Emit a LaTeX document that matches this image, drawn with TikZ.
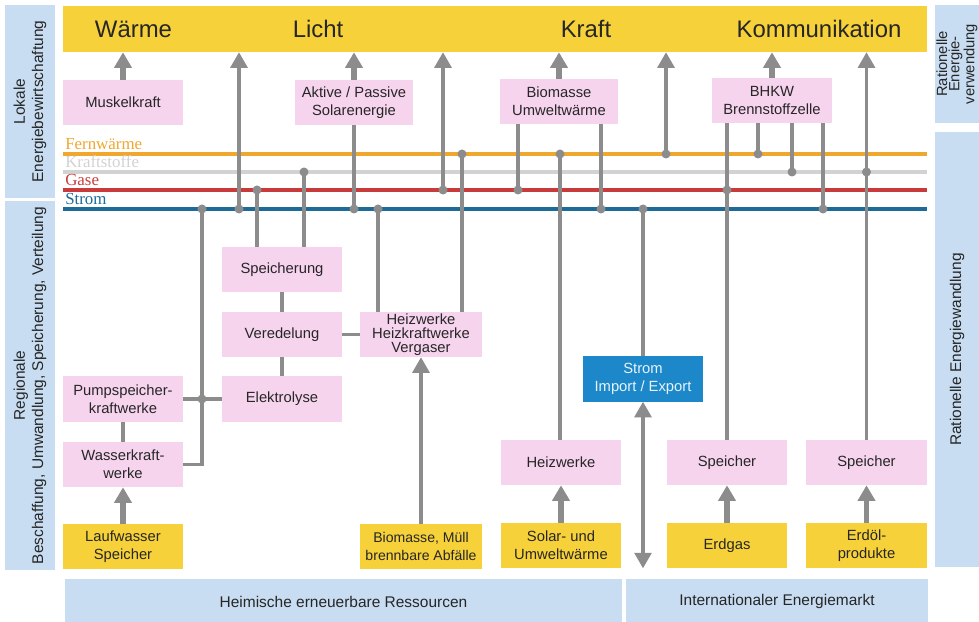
\documentclass[tikz,border=0pt]{standalone}
\usepackage{fontspec}
\setmainfont{Liberation Sans}
\newfontfamily\linefont{Liberation Serif}
\usetikzlibrary{arrows.meta}

\definecolor{barYellow}{HTML}{F6D13A}
\definecolor{boxPink}{HTML}{F6D4EE}
\definecolor{panelBlue}{HTML}{C8DDF2}
\definecolor{connGrey}{HTML}{8C8C8C}
\definecolor{fwOrange}{HTML}{EFA72E}
\definecolor{ksGrey}{HTML}{D2D2D2}
\definecolor{gaRed}{HTML}{C93B3B}
\definecolor{stBlue}{HTML}{1F6B98}
\definecolor{impBlue}{HTML}{1C88CA}

\tikzset{
  pinkbox/.style={fill=boxPink, minimum width=3cm, minimum height=1.125cm, inner sep=1pt,
    align=center, text=black!85, font=\fontsize{10.5}{12.8}\selectfont},
  yellowbox/.style={pinkbox, fill=barYellow},
  panel/.style={fill=panelBlue, inner sep=0pt, align=center, text=black!85,
    font=\fontsize{11}{13}\selectfont},
  conn/.style={draw=connGrey, line width=2.2pt},
  flow/.style={conn, -{Triangle[width=12pt,length=11pt]}},
  fatflow/.style={flow, line width=4pt},
  dflow/.style={conn, {Triangle[width=12pt,length=11pt]}-{Triangle[width=12pt,length=11pt]}},
  barlabel/.style={anchor=base, inner sep=0pt, text=black!85, font=\fontsize{17}{17}\selectfont}
}

\begin{document}
\begin{tikzpicture}[x=0.025cm, y=-0.025cm]
\useasboundingbox (0,0) rectangle (979,622);

% Rahmen
\node[panel, rotate=90, minimum width=4.825cm, minimum height=1.25cm] (lok) at (30,101.5) {Lokale\\Energiebewirtschaftung};
\node[panel, rotate=90, minimum width=9.225cm, minimum height=1.25cm] (reg) at (30,385.5) {Regionale\\Beschaffung, Umwandlung, Speicherung, Verteilung};
\node[panel, rotate=90, minimum width=2.95cm, minimum height=1.1cm, font=\fontsize{10.5}{8.6}\selectfont] (rv) at (957,64) {Rationelle\\Energie-\\verwendung};
\node[panel, rotate=90, minimum width=10.875cm, minimum height=1.1cm] (rw) at (957,349.5) {Rationelle Energiewandlung};
\node[panel, minimum width=13.925cm, minimum height=1.1cm] (heim) at (343.5,601.5) {Heimische erneuerbare Ressourcen};
\node[panel, minimum width=7.55cm, minimum height=1.1cm] (intl) at (777,601.5) {Internationaler Energiemarkt};

\node[fill=barYellow, minimum width=21.6cm, minimum height=1.15cm, inner sep=0pt] (bar) at (495,29) {};
\node[barlabel] (lWaerme) at (133.5,38) {Wärme};
\node[barlabel] (lLicht) at (318,38) {Licht};
\node[barlabel] (lKraft) at (586,38) {Kraft};
\node[barlabel] (lKomm) at (819,38) {Kommunikation};

% Netze
\foreach \nm/\yy/\col/\lbl in {fw/154/fwOrange/Fernwärme,ks/172/ksGrey/Kraftstoffe,ga/190/gaRed/Gase,st/209/stBlue/Strom}{
	\coordinate (\nm L) at (63,\yy);
	\coordinate (\nm R) at (927,\yy);
	\draw[\col, line width=3.5pt] (\nm L) -- (\nm R);
	\node[anchor=base west, inner sep=0pt, text=\col, font=\linefont\fontsize{12}{12}\selectfont] (\nm lbl) at (65,\yy-4) {\lbl};
}

% Anlagen
\node[pinkbox] (muskel) at (123,102.5) {Muskelkraft};
\node[pinkbox, minimum width=2.95cm] (aktiv) at (354,102.5) {Aktive / Passive\\Solarenergie};
\node[pinkbox, minimum width=2.95cm] (bio) at (559,101.5) {Biomasse\\Umweltwärme};
\node[pinkbox] (bhkw) at (772,100.5) {BHKW\\Brennstoffzelle};

\node[pinkbox] (speich) at (282,269.5) {Speicherung};
\node[pinkbox] (vered) at (282,334.5) {Veredelung};
\node[pinkbox] (elek) at (282,399) {Elektrolyse};
\node[pinkbox, minimum width=3.05cm, font=\fontsize{10.5}{10}\selectfont] (heizA) at (421,334.5) {Heizwerke\\Heizkraftwerke\\Vergaser};
\node[pinkbox] (pump) at (123,399) {Pumpspeicher-\\kraftwerke};
\node[pinkbox] (wasser) at (123,464.5) {Wasserkraft-\\werke};
\node[pinkbox] (heizB) at (561,462.5) {Heizwerke};
\node[pinkbox] (speichA) at (727,462.5) {Speicher};
\node[pinkbox] (speichB) at (866.5,462.5) {Speicher};
\node[pinkbox, fill=impBlue, text=white!90!impBlue] (imp) at (643,379) {Strom\\Import / Export};

\node[yellowbox] (laufw) at (123,546.5) {Laufwasser\\Speicher};
\node[yellowbox, minimum width=3.05cm, font=\fontsize{10}{12.8}\selectfont] (muell) at (421,546.5) {Biomasse, Müll\\brennbare Abfälle};
\node[yellowbox] (solar) at (561,545.5) {Solar- und\\Umweltwärme};
\node[yellowbox] (erdgas) at (727,545.5) {Erdgas};
\node[yellowbox] (erdoel) at (866.5,545.5) {Erdöl-\\produkte};

% Knoten auf den Netzen
\foreach \j/\xx in {st1/202,st2/239,st3/354,st4/378,st5/601,st6/643,st7/823}{
	\coordinate (\j) at (\xx,209);
}
\foreach \j/\xx in {ga1/257,ga2/443,ga3/518,ga4/727}{
	\coordinate (\j) at (\xx,190);
}
\foreach \j/\xx in {ks1/304,ks2/792,ks3/866.5}{
	\coordinate (\j) at (\xx,172);
}
\foreach \j/\xx in {fw1/462,fw2/560,fw3/666,fw4/758}{
	\coordinate (\j) at (\xx,154);
}
\coordinate (jp) at (202,399);

\draw[conn] (st1) |- (wasser);
\draw[conn] (pump) -- (elek);
\draw[conn] (pump) -- (wasser);
\draw[conn] (speich) -- (vered);
\draw[conn] (vered) -- (elek);
\draw[conn] (vered) -- (heizA);
\draw[conn] (ga1) -- (ga1 |- speich.north);
\draw[conn] (ks1) -- (ks1 |- speich.north);
\draw[conn] (st4) -- (st4 |- heizA.north);
\draw[conn] (fw1) -- (fw1 |- heizA.north);
\draw[conn] (aktiv) -- (st3);
\draw[conn] (ga3 |- bio.south) -- (ga3);
\draw[conn] (st5 |- bio.south) -- (st5);
\draw[conn] (fw2) -- (fw2 |- heizB.north);
\draw[conn] (st6) -- (imp);
\draw[conn] (ga4 |- bhkw.south) -- (ga4 |- speichA.north);
\draw[conn] (fw4 |- bhkw.south) -- (fw4);
\draw[conn] (ks2 |- bhkw.south) -- (ks2);
\draw[conn] (st7 |- bhkw.south) -- (st7);

\draw[flow] (st2) -- (st2 |- bar.south);
\draw[flow] (ga2) -- (ga2 |- bar.south);
\draw[flow] (fw3) -- (fw3 |- bar.south);
\draw[flow] (speichB) -- (speichB |- bar.south);
\draw[flow] (muell) -- (heizA);
\draw[dflow] (imp) -- (imp |- erdgas.south);

\draw[fatflow] (muskel) -- (muskel |- bar.south);
\draw[fatflow] (aktiv) -- (aktiv |- bar.south);
\draw[fatflow] (bio) -- (bio |- bar.south);
\draw[fatflow] (bhkw) -- (bhkw |- bar.south);
\draw[fatflow] (laufw) -- (wasser);
\draw[fatflow] (solar) -- (heizB);
\draw[fatflow] (erdgas) -- (speichA);
\draw[fatflow] (erdoel) -- (speichB);

\foreach \j in {st1,st2,st3,st4,st5,st6,st7,ga1,ga2,ga3,ga4,ks1,ks2,ks3,fw1,fw2,fw3,fw4,jp}{
	\fill[connGrey] (\j) circle[radius=3.2pt];
}

\end{tikzpicture}
\end{document}
